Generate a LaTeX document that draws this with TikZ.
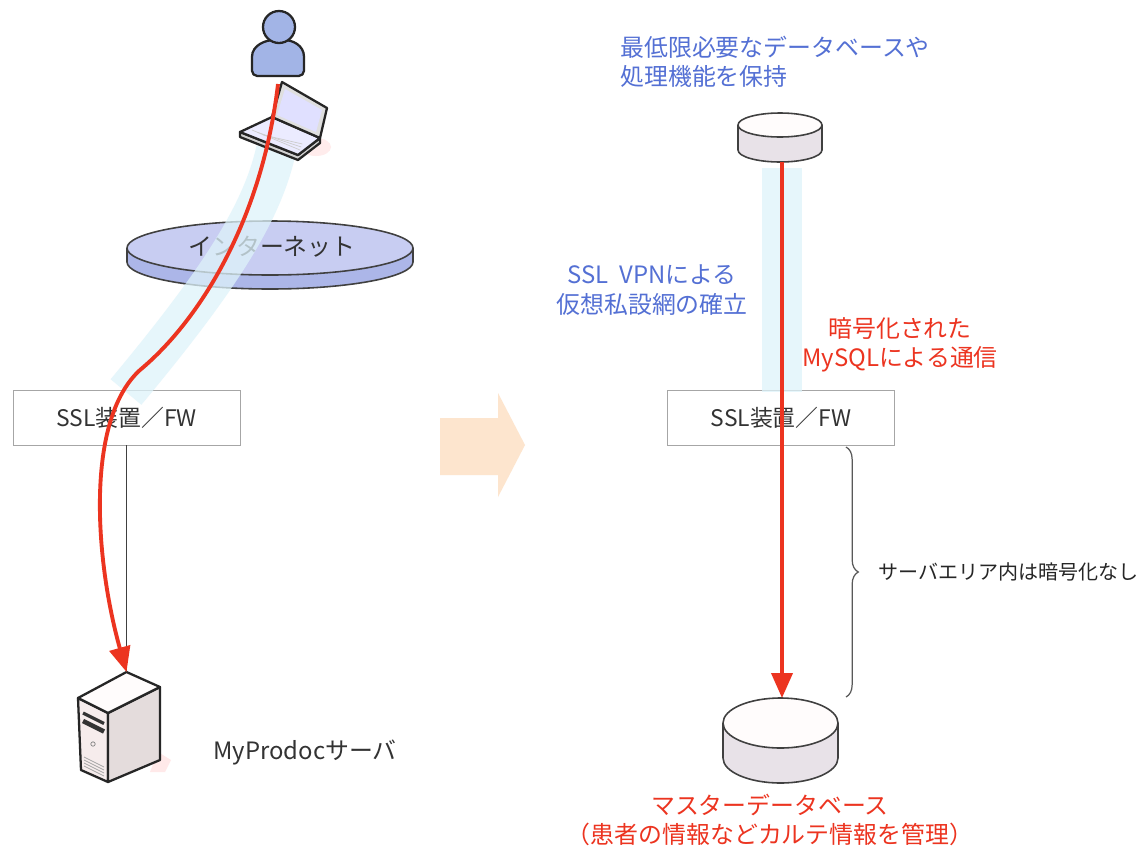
\documentclass[tikz,border=0pt]{standalone}
\usepackage{fontspec}
\setmainfont{Noto Sans CJK JP}
\usetikzlibrary{arrows.meta, positioning, decorations.pathreplacing}
\definecolor{vpnblue}{RGB}{84,112,212}
\definecolor{sqlred}{RGB}{236,52,32}
\definecolor{tunnel}{RGB}{222,243,250}
\definecolor{netlav}{RGB}{200,205,242}
\definecolor{netside}{RGB}{172,182,232}
\definecolor{userblue}{RGB}{162,180,230}
\definecolor{peach}{RGB}{253,229,206}
\definecolor{diskside}{RGB}{232,226,232}
\definecolor{srvpink}{RGB}{246,236,236}

% disk: centre x, top-ellipse y, x radius, y radius, side height
\newcommand{\dbdisk}[5]{%
  \filldraw[disk, fill=diskside] (#1,#2+#5) ellipse[x radius=#3, y radius=#4];
  \fill[diskside] (#1-#3,#2) rectangle (#1+#3,#2+#5);
  \draw[disk] (#1-#3,#2) -- (#1-#3,#2+#5) (#1+#3,#2) -- (#1+#3,#2+#5);
  \filldraw[disk, fill=white!96!pink] (#1,#2) ellipse[x radius=#3, y radius=#4];}

\begin{document}
\begin{tikzpicture}[x=0.02cm, y=-0.02cm,
  fwbox/.style={draw=gray!70, fill=white, minimum width=4.54cm, minimum height=1.1cm,
                inner sep=0, font=\fontsize{13pt}{15pt}\selectfont, text=black!80},
  note/.style={font=\fontsize{13.6pt}{16.8pt}\selectfont, align=center, inner sep=0},
  small/.style={font=\fontsize{11.4pt}{14pt}\selectfont, inner sep=0, text=black!85},
  sqlline/.style={draw=sqlred, line width=2.2pt, -{Triangle[length=0.5cm, width=0.42cm]}},
  tunnelband/.style={draw=tunnel, line width=0.8cm, opacity=0.75},
  outline/.style={draw=black!85, line width=1.3pt, line join=round},
  disk/.style={draw=black!75, line width=0.9pt}
]
\fill[white] (0,0) rectangle (1143,849);
\useasboundingbox (0,0) rectangle (1143,849);

% internet disc
\filldraw[disk, fill=netside] (270,262) ellipse[x radius=143, y radius=27];
\fill[netside] (127,248) rectangle (413,262);
\draw[disk] (127,248) -- (127,262) (413,248) -- (413,262);
\filldraw[disk, fill=netlav] (270,248) ellipse[x radius=143, y radius=27];
\node[note, text=black!80] (inet) at (272,247) {インターネット};

\node[fwbox] (sslL) at (126.5,417.5) {SSL装置／FW};
\node[fwbox] (sslR) at (781,417.5)   {SSL装置／FW};

% tunnels
\draw[tunnelband] (276,150) .. controls (262,215) and (215,285) .. (126,392);
\draw[tunnelband] (782,168) -- (782,392);

% user and laptop
\filldraw[fill=userblue, outline, rounded corners=3pt]
  (252,76) -- (252,62) .. controls (252,45) and (266,40) .. (279,40)
  .. controls (292,40) and (304,45) .. (304,62) -- (304,76) -- cycle;
\filldraw[fill=userblue, outline] (279,27) circle[radius=16];
\coordinate (user) at (279,40);

\fill[pink!30] (316,147) ellipse[x radius=15, y radius=9];
\filldraw[fill=gray!35, outline] (240,132) -- (298,155) -- (320,138) -- (320,143)
  -- (298,160) -- (240,137) -- cycle;
\filldraw[fill=white!92!blue, outline] (240,132) -- (272,117) -- (320,138) -- (298,155) -- cycle;
\foreach \k in {0,6,12}
  \draw[gray!40] (252+\k*0.9,130+\k*0.4) -- (300+\k*0.2,150-\k*0.5);
\filldraw[fill=gray!25, outline] (282,82) -- (327,108) -- (320,138) -- (272,117) -- cycle;
\fill[white!88!blue] (285,89) -- (322,110) -- (316,132) -- (277,115) -- cycle;
\coordinate (pc) at (278,84);

% server
\coordinate (srv) at (126.5,672);
\fill[pink!35] (158,752) -- (171,760) -- (165,772) -- (150,772) -- cycle;
\filldraw[fill=srvpink, outline] (78,698) -- (108,713) -- (108,782) -- (81,770) -- cycle;
\filldraw[fill=srvpink!85!gray, outline] (108,713) -- (160,687) -- (160,760) -- (108,782) -- cycle;
\filldraw[fill=white!95!pink, outline] (srv) -- (160,687) -- (108,713) -- (78,698) -- cycle;
\draw[black!80, line width=1.8pt] (83,713) -- (104,723.5);
\draw[black!80, line width=2.6pt] (83,721) -- (104,731.5);
\draw[gray] (93,744) circle[radius=2.2];
\foreach \d in {0,3,6,9}
  \draw[gray!70] (84,757+\d) -- (104,767+\d);
\node[note, text=black!80, anchor=west] (srvname) at (213,752) {MyProdocサーバ};

\draw[black!75] (sslL) -- (srv);
\draw[sqlline] (pc) .. controls (262,220) and (200,320) .. (140,370)
  .. controls (85,420) and (95,560) .. (srv);

% right side
\dbdisk{780}{125}{42}{12}{25}
\dbdisk{780.5}{723}{57.5}{25}{35}
\coordinate (sdb) at (782,162);
\coordinate (mdb) at (782,698);
\draw[sqlline] (sdb) -- (mdb);

\node[note, text=vpnblue, anchor=west, align=left] (keep) at (620,62)
  {最低限必要なデータベースや\\処理機能を保持};
\node[note, text=vpnblue] (vpn) at (652,290) {SSL\ \ VPNによる\\仮想私設網の確立};
\node[note, text=sqlred] (enc) at (900,345) {暗号化された\\MySQLによる通信};
\node[note, text=sqlred] (master) at (770,820)
  {マスターデータベース\\（患者の情報などカルテ情報を管理）};

\coordinate (brtop) at (846,447);
\coordinate (brbot) at (846,697);
\draw[black!65, line width=0.7pt, decorate, decoration={brace, amplitude=7pt}] (brtop) -- (brbot);
\node[small, anchor=west] (plain) at (878,572) {サーバエリア内は暗号化なし};

% transition arrow
\fill[peach] (440,418) -- (498,418) -- (498,393) -- (525,445) -- (498,497)
  -- (498,475) -- (440,475) -- cycle;
\end{tikzpicture}
\end{document}
